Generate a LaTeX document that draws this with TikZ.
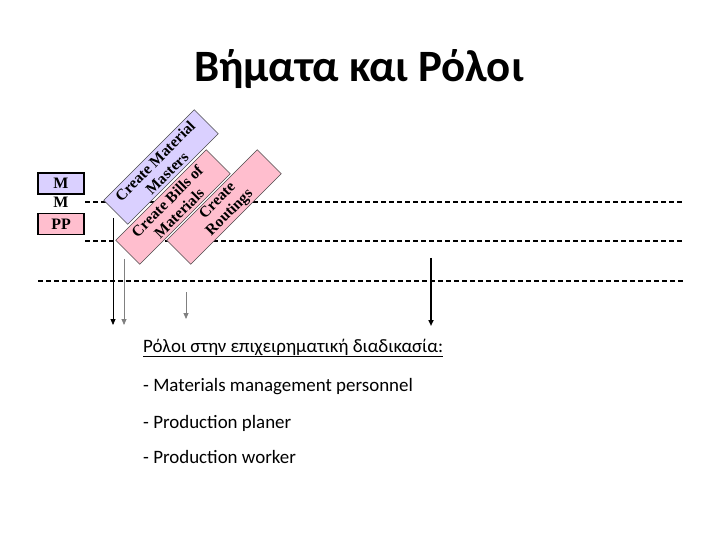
\documentclass[tikz,border=0pt]{standalone}
\usepackage{fontspec}
\setmainfont{Carlito}
\newfontfamily\timesfont{Liberation Serif}
\usetikzlibrary{arrows.meta}
\definecolor{lavender}{RGB}{218,208,255}
\definecolor{rosepink}{RGB}{255,190,206}
\begin{document}
\begin{tikzpicture}[x=1bp,y=-1bp]
  \tikzset{module box/.style={draw=black, line width=1.5bp, minimum width=46bp, minimum height=21bp, inner sep=0pt, font=\timesfont\bfseries\fontsize{16}{16}\selectfont},
    step box/.style={draw=black!70, line width=0.6bp, rotate=45, minimum width=128bp, minimum height=34bp, inner sep=0pt, align=center, font=\timesfont\bfseries\fontsize{15.5}{17}\selectfont},
    lane/.style={dash pattern=on 5bp off 3bp, line width=1.8bp},
    flow/.style={-{Triangle[length=6bp,width=5bp]}, line width=0.8bp},
    role/.style={anchor=base west, inner sep=0pt, font=\fontsize{19}{19}\selectfont}}
  \useasboundingbox (0,0) rectangle (720,540);
  \node[font=\bfseries\fontsize{45}{45}\selectfont] (title) at (359,69) {Βήματα και Ρόλοι};
  % lanes
  \coordinate (lane1w) at (85,202);  \coordinate (lane1e) at (683,202);
  \coordinate (lane2w) at (85,241);  \coordinate (lane2e) at (683,241);
  \coordinate (lane3w) at (38,281);  \coordinate (lane3e) at (683,281);
  \draw[lane] (lane1w) -- (lane1e);
  \draw[lane] (lane2w) -- (lane2e);
  \draw[lane] (lane3w) -- (lane3e);
  % arrows
  \coordinate (mm top) at (113,218);  \coordinate (mm end) at (113,325);
  \coordinate (bom top) at (124,259); \coordinate (bom end) at (124,325);
  \coordinate (rt top) at (186,292);  \coordinate (rt end) at (186,319);
  \coordinate (pp top) at (431,258);  \coordinate (pp end) at (431,326);
  \draw[flow] (mm top) -- (mm end);
  \draw[flow, gray] (bom top) -- (bom end);
  \draw[flow, gray] (rt top) -- (rt end);
  \draw[flow, line width=1.8bp] (pp top) -- (pp end);
  % steps
  \node[step box, fill=lavender] (masters) at (161,167) {Create Material\\Masters};
  \node[step box, fill=rosepink] (bills) at (173,207) {Create Bills of\\Materials};
  \node[step box, fill=rosepink] (routings) at (224,207) {Create\\Routings};
  % modules
  \node[module box, fill=lavender] (mm) at (61,183.5) {M};
  \node[font=\timesfont\bfseries\fontsize{16}{16}\selectfont, anchor=base, inner sep=0pt] (mm second) at (61,208) {M};
  \node[module box, fill=rosepink] (pp) at (61,224) {PP};
  % roles
  \node[role] (roles) at (143,352) {\underline{Ρόλοι στην επιχειρηματική διαδικασία:}};
  \node[role] (role1) at (143,391) {- Materials management personnel};
  \node[role] (role2) at (143,428) {- Production planer};
  \node[role] (role3) at (143,463) {- Production worker};
\end{tikzpicture}
\end{document}
